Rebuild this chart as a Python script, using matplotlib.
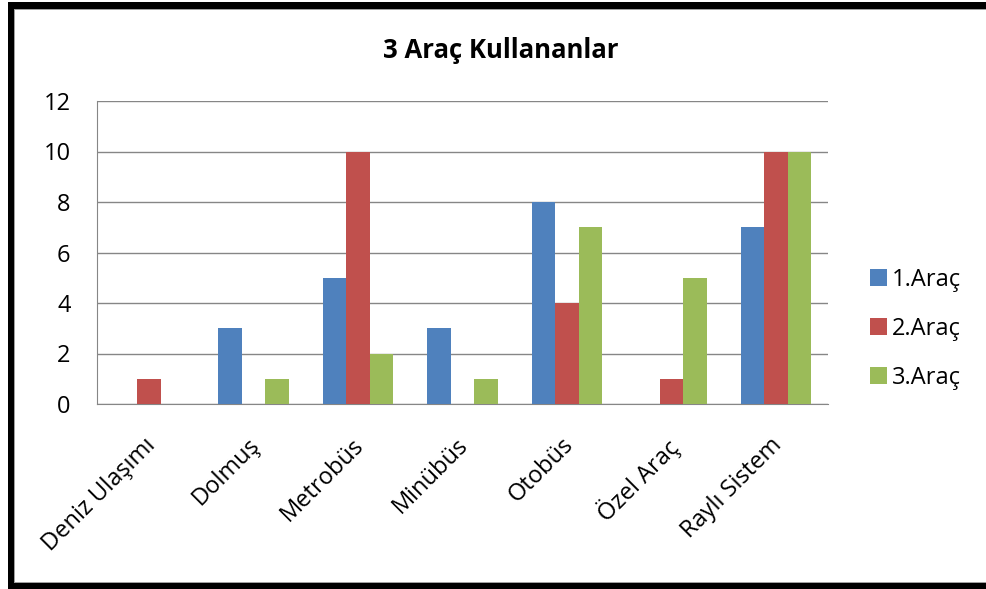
import numpy as np
import matplotlib.pyplot as plt
from matplotlib.patches import Rectangle
from matplotlib.transforms import ScaledTranslation

# Veriler
kategoriler = ["Deniz Ulaşımı", "Dolmuş", "Metrobüs", "Minübüs", "Otobüs", "Özel Araç", "Raylı Sistem"]
arac1 = [0, 3, 5, 3, 8, 0, 7]
arac2 = [1, 0, 10, 0, 4, 1, 10]
arac3 = [0, 1, 2, 1, 7, 5, 10]
seriler = ["1.Araç", "2.Araç", "3.Araç"]
renkler = ["#4F81BD", "#C0504D", "#9BBB59"]

plt.rcParams['font.family'] = ['Open Sans', 'DejaVu Sans']

W, H = 987, 589
fig = plt.figure(figsize=(W / 100, H / 100), dpi=100)
ax = fig.add_axes([97 / W, 1 - 404 / H, 731 / W, 303 / H])

x = np.arange(len(kategoriler))
w = 0.225
for i, (vals, lab, c) in enumerate(zip([arac1, arac2, arac3], seriler, renkler)):
    ax.bar(x + (i - 1) * w, vals, w, color=c, label=lab, zorder=3)

ax.set_xlim(-0.5, len(kategoriler) - 0.5)
ax.set_ylim(0, 12)
ax.set_yticks(range(0, 13, 2))
ax.yaxis.grid(True, color="#868686", linewidth=1, zorder=0)
ax.set_xticks(x)
ax.set_xticklabels(kategoriler, rotation=45, ha='right', va='top',
                   rotation_mode='anchor', fontsize=17)
ax.tick_params(axis='y', labelsize=17, length=0, pad=19)
ax.tick_params(axis='x', length=0, pad=21)
kaydir = ScaledTranslation(-6 / 100, 0, fig.dpi_scale_trans)
for lbl in ax.get_xticklabels():
    lbl.set_transform(lbl.get_transform() + kaydir)
for s in ['top', 'right']:
    ax.spines[s].set_visible(False)
for s in ['left', 'bottom']:
    ax.spines[s].set_color("#868686")

fig.text(501 / W, 1 - 51 / H, "3 Araç Kullananlar", fontsize=18.5,
         fontweight='bold', ha='center', va='center')

ax.legend(loc='center left', bbox_to_anchor=((870 - 97) / 731, 0.2475),
          frameon=False, fontsize=17, handlelength=0.72, handleheight=0.72,
          labelspacing=1.06, handletextpad=0.22, borderpad=0, borderaxespad=0)

# siyah çerçeve (üst, sol, alt)
def kutu(x0, y0, x1, y1, renk):
    fig.patches.append(Rectangle((x0 / W, 1 - y1 / H), (x1 - x0) / W, (y1 - y0) / H,
                                 transform=fig.transFigure, color=renk, lw=0))

kutu(8, 2, W, 9, 'black')
kutu(8, 2, 14, H, 'black')
kutu(8, 583, W, H, 'black')
kutu(14, 9, W, 10, '#a0a0a0')
kutu(14, 9, 15, 583, '#a0a0a0')
kutu(14, 582, W, 583, '#a0a0a0')

fig.savefig("out.png", dpi=100)
